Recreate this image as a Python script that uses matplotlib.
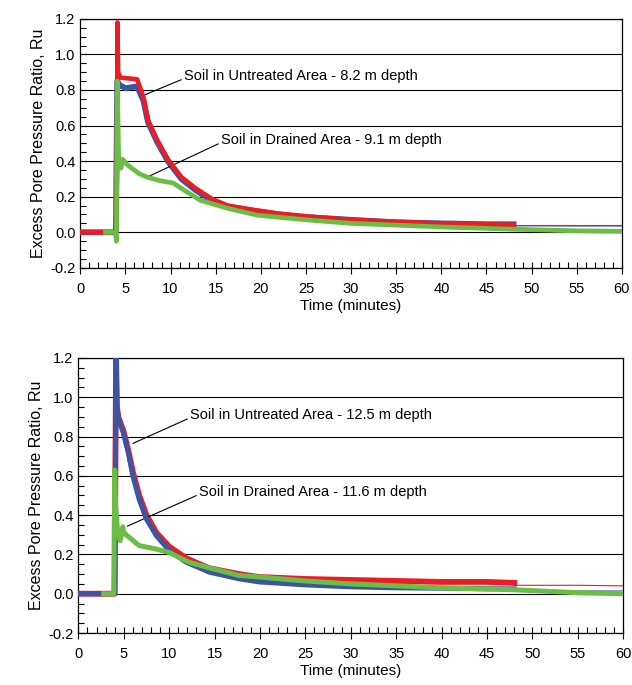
import matplotlib
matplotlib.use("Agg")
import matplotlib.pyplot as plt
from matplotlib.ticker import MultipleLocator, FormatStrFormatter

plt.rcParams['font.family'] = ['Liberation Sans', 'DejaVu Sans']

# ---------------- Top panel data (8.2 m untreated, 9.1 m drained) ----------------
top_red_t = [0, 3.95, 4.05, 4.12, 4.2, 4.4, 6.3, 7.0, 7.5, 8.5, 9.7, 11.2, 12.7, 14.5, 16.3, 19.3, 22, 25, 30, 35, 40, 45, 48]
top_red_v = [0.0, 0.0, 0.3, 1.18, 0.9, 0.87, 0.86, 0.76, 0.63, 0.52, 0.41, 0.31, 0.25, 0.19, 0.15, 0.125, 0.105, 0.09, 0.07, 0.06, 0.05, 0.045, 0.042]
top_red_tail_t = [48, 55, 60]
top_red_tail_v = [0.043, 0.043, 0.043]

top_blue_t = [0, 3.95, 4.1, 4.3, 5.0, 6.3, 7.0, 7.5, 8.5, 9.7, 11.2, 12.7, 14.5, 16.3, 19.3, 22, 25, 30, 35, 40, 45, 48]
top_blue_v = [0.0, 0.0, 0.85, 0.83, 0.81, 0.82, 0.74, 0.62, 0.51, 0.40, 0.30, 0.24, 0.18, 0.145, 0.12, 0.10, 0.085, 0.07, 0.055, 0.05, 0.045, 0.045]
top_blue_tail_t = [48, 55, 60]
top_blue_tail_v = [0.035, 0.033, 0.033]

top_green_t = [2.8, 3.9, 4.0, 4.1, 4.25, 4.5, 4.7, 5.2, 6.5, 7.4, 8.8, 10.3, 11.4, 13.3, 16.3, 19.6, 25, 30, 35, 40, 48, 55, 60]
top_green_v = [0.0, 0.0, -0.05, 0.85, 0.42, 0.36, 0.41, 0.38, 0.33, 0.31, 0.29, 0.277, 0.24, 0.18, 0.135, 0.096, 0.07, 0.05, 0.04, 0.03, 0.017, 0.008, 0.005]

# ---------------- Bottom panel data (12.5 m untreated, 11.6 m drained) ----------------
bot_blue_t = [0, 4.0, 4.15, 4.25, 4.4, 4.95, 5.5, 6.0, 6.7, 7.5, 8.6, 10.0, 11.9, 14.4, 17.7, 19.9, 25, 30, 35, 40, 45, 48]
bot_blue_v = [0.0, 0.0, 1.2, 0.95, 0.895, 0.82, 0.72, 0.60, 0.48, 0.38, 0.295, 0.22, 0.16, 0.11, 0.076, 0.06, 0.045, 0.035, 0.03, 0.028, 0.025, 0.025]
bot_blue_tail_t = [48, 55, 60]
bot_blue_tail_v = [0.02, 0.02, 0.02]

bot_red_t = [0, 4.0, 4.15, 4.25, 4.4, 4.95, 5.5, 6.0, 6.7, 7.5, 8.6, 10.0, 11.9, 14.4, 17.7, 19.9, 25, 30, 35, 40, 45, 48]
bot_red_v = [0.0, 0.0, 1.2, 0.95, 0.9, 0.83, 0.73, 0.62, 0.50, 0.40, 0.31, 0.24, 0.18, 0.13, 0.10, 0.085, 0.075, 0.07, 0.065, 0.06, 0.06, 0.055]
bot_red_tail_t = [48, 55, 60]
bot_red_tail_v = [0.043, 0.043, 0.04]

bot_green_t = [2.8, 3.9, 4.0, 4.1, 4.3, 4.6, 4.9, 5.0, 6.7, 8.5, 10.0, 12.2, 14.8, 17.7, 20, 25, 30, 35, 40, 48, 55, 60]
bot_green_v = [0.0, 0.0, 0.63, 0.45, 0.33, 0.27, 0.34, 0.31, 0.245, 0.228, 0.21, 0.16, 0.127, 0.093, 0.085, 0.065, 0.05, 0.04, 0.03, 0.02, 0.005, 0.0]

labels_top = ["Soil in Untreated Area - 8.2 m depth", "Soil in Drained Area - 9.1 m depth"]
labels_bot = ["Soil in Untreated Area - 12.5 m depth", "Soil in Drained Area - 11.6 m depth"]

RED = "#ED1C24"
BLUE = "#3B55A3"
GREEN = "#6BBD45"

fig = plt.figure(figsize=(6.32, 6.85), dpi=100)
ax1 = fig.add_axes([0.127, 0.609, 0.857, 0.3635])
ax2 = fig.add_axes([0.124, 0.0759, 0.862, 0.4015])


def style(ax):
    ax.set_xlim(0, 60)
    ax.set_ylim(-0.2, 1.2)
    ax.xaxis.set_major_locator(MultipleLocator(5))
    ax.xaxis.set_minor_locator(MultipleLocator(1))
    ax.yaxis.set_major_locator(MultipleLocator(0.2))
    ax.yaxis.set_minor_locator(MultipleLocator(0.05))
    ax.yaxis.set_major_formatter(FormatStrFormatter('%.1f'))
    ax.grid(axis='y', which='major', color='black', linewidth=0.8)
    ax.tick_params(axis='x', which='major', direction='inout', length=8, width=0.8, labelsize=10.5, pad=6)
    ax.tick_params(axis='x', which='minor', direction='in', length=4, width=0.8)
    ax.tick_params(axis='y', which='major', direction='in', length=5, width=0.8, labelsize=10.5)
    ax.tick_params(axis='y', which='minor', direction='in', length=4, width=0.8)
    for s in ax.spines.values():
        s.set_linewidth(0.9)
        s.set_color('black')
    ax.set_xlabel("Time (minutes)", fontsize=11, labelpad=2)
    ax.set_ylabel("Excess Pore Pressure Ratio, Ru", fontsize=11.5, labelpad=3)
    ax.set_axisbelow(True)


# Top panel: blue, red, green
ax1.plot(top_blue_t, top_blue_v, color=BLUE, lw=4.2, solid_joinstyle='round', zorder=3)
ax1.plot(top_blue_tail_t, top_blue_tail_v, color='#8E9BC8', lw=0.8, zorder=3)
ax1.plot(top_red_t, top_red_v, color=RED, lw=3.3, solid_joinstyle='round', zorder=4)
ax1.plot(top_red_tail_t, top_red_tail_v, color=RED, lw=0.8, zorder=4)
ax1.plot(top_green_t, top_green_v, color=GREEN, lw=3.4, solid_joinstyle='round', zorder=5)
style(ax1)
ax1.annotate(labels_top[0], xy=(7.2, 0.774), xytext=(11.5, 0.88), fontsize=10.5,
             va='center', ha='left',
             arrowprops=dict(arrowstyle='-', color='black', lw=0.8, shrinkA=0, shrinkB=0,
                             relpos=(0, 0.3)))
ax1.annotate(labels_top[1], xy=(7.4, 0.31), xytext=(15.6, 0.52), fontsize=10.5,
             va='center', ha='left',
             arrowprops=dict(arrowstyle='-', color='black', lw=0.8, shrinkA=0, shrinkB=0,
                             relpos=(0, 0.3)))

# Bottom panel: red, blue, green
ax2.plot(bot_red_t, bot_red_v, color=RED, lw=4.2, solid_joinstyle='round', zorder=3)
ax2.plot(bot_red_tail_t, bot_red_tail_v, color=RED, lw=0.8, zorder=3)
ax2.plot(bot_blue_t, bot_blue_v, color=BLUE, lw=3.6, solid_joinstyle='round', zorder=4)
ax2.plot(bot_blue_tail_t, bot_blue_tail_v, color='#8E9BC8', lw=0.8, zorder=4)
ax2.plot(bot_green_t, bot_green_v, color=GREEN, lw=3.6, solid_joinstyle='round', zorder=5)
style(ax2)
ax2.annotate(labels_bot[0], xy=(6.0, 0.765), xytext=(12.3, 0.91), fontsize=10.5,
             va='center', ha='left',
             arrowprops=dict(arrowstyle='-', color='black', lw=0.8, shrinkA=0, shrinkB=0,
                             relpos=(0, 0.3)))
ax2.annotate(labels_bot[1], xy=(5.4, 0.344), xytext=(13.3, 0.52), fontsize=10.5,
             va='center', ha='left',
             arrowprops=dict(arrowstyle='-', color='black', lw=0.8, shrinkA=0, shrinkB=0,
                             relpos=(0, 0.3)))

fig.savefig("out.png", dpi=100)
